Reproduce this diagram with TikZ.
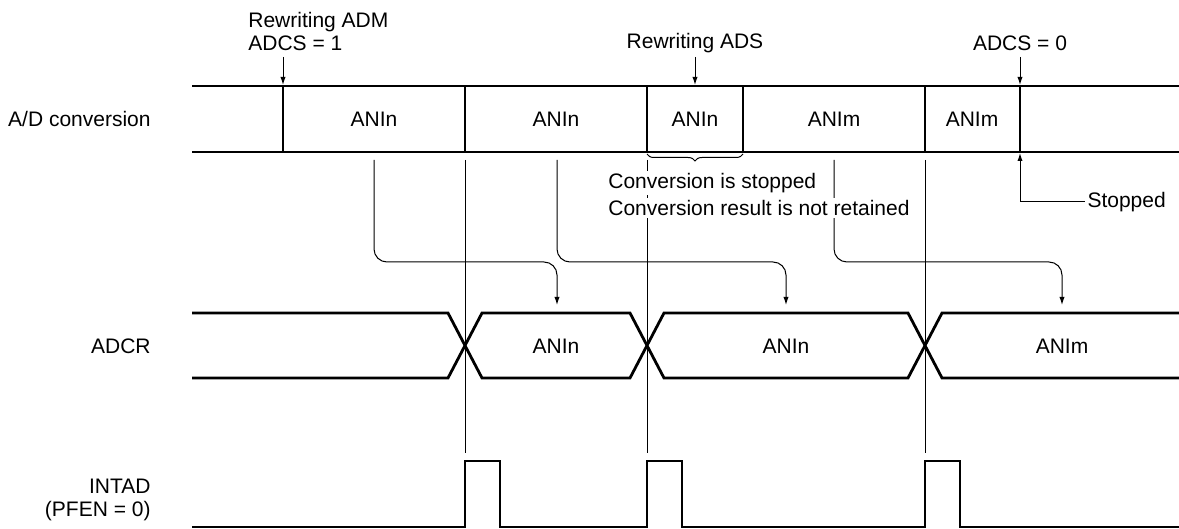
\documentclass[tikz,border=0pt]{standalone}
\usepackage{fontspec}
\setmainfont{Liberation Sans}
\usetikzlibrary{arrows.meta,decorations.pathreplacing}
\newcommand{\sigfont}{\fontsize{10.5}{12}\selectfont}

\begin{document}
\begin{tikzpicture}[x=0.5pt, y=-0.5pt, every node/.style={font=\sigfont, inner sep=1pt}, >={Latex[length=4pt,width=2.6pt]},
	bus/.style={line width=1.4pt}, guide/.style={line width=0.5pt}, cover/.style={fill=white, anchor=west}]
	\useasboundingbox (0,0) rectangle (1179,529);
	% A/D conversion
	\draw[bus] (192,86) -- (1179,86);
	\draw[bus] (192,152) -- (1179,152);
	\foreach \x in {283,465,647,743,925,1020} \draw[bus] (\x,86) -- (\x,152);
	\node (cv1) at (374,119) {ANIn};
	\node (cv2) at (556,119) {ANIn};
	\node (cv3) at (695,119) {ANIn};
	\node (cv4) at (834,119) {ANIm};
	\node (cv5) at (972,119) {ANIm};
	\node[anchor=west, align=left, font=\fontsize{10.5}{11.5}\selectfont] (adm) at (246,31) {Rewriting ADM\\ADCS = 1};
	\node (ads) at (695,43) {Rewriting ADS};
	\node (stop0) at (1020,43) {ADCS = 0};
	\draw[guide,->] (283,57) -- (283,85);
	\draw[guide,->] (695,57) -- (695,85);
	\draw[guide,->] (1020,57) -- (1020,85);
	\draw[guide, decorate, decoration={brace, mirror, amplitude=3.5pt}] (647,154) -- (743,154);
	\draw[guide,<-] (1020,153) |- (1085,202) node[anchor=west] (stp) {Stopped};
	% guides and transfers
	\foreach \x in {465,647,925} \draw[guide] (\x,160) -- (\x,453);
	\draw[guide,->,rounded corners=6.5pt] (374,160) |- (557,262) -- (557,305);
	\draw[guide,->,rounded corners=6.5pt] (557,160) |- (786,262) -- (786,305);
	\draw[guide,->,rounded corners=6.5pt] (834,160) |- (1062,262) -- (1062,305);
	\node[cover] (why1) at (606,183) {Conversion is stopped};
	\node[cover] (why2) at (606,208) {Conversion result is not retained};
	% ADCR
	\draw[bus] (192,313) -- (448,313) -- (482,378) -- (630,378) -- (664,313) -- (908,313) -- (942,378) -- (1179,378);
	\draw[bus] (192,378) -- (448,378) -- (482,313) -- (630,313) -- (664,378) -- (908,378) -- (942,313) -- (1179,313);
	\node (rg1) at (556,346) {ANIn};
	\node (rg2) at (786,346) {ANIn};
	\node (rg3) at (1062,346) {ANIm};
	% INTAD
	\draw[bus] (192,527) -- (465,527) -- (465,461) -- (500,461) -- (500,527) -- (647,527) -- (647,461) -- (682,461) -- (682,527)
		-- (925,527) -- (925,461) -- (960,461) -- (960,527) -- (1179,527);
	\node[anchor=east] (lbad) at (153,119) {A/D conversion};
	\node[anchor=east] (lbreg) at (153,346) {ADCR};
	\node[anchor=east, align=right, font=\fontsize{10.5}{11.5}\selectfont] (lbint) at (153,500) {INTAD\\(PFEN = 0)};
\end{tikzpicture}
\end{document}
